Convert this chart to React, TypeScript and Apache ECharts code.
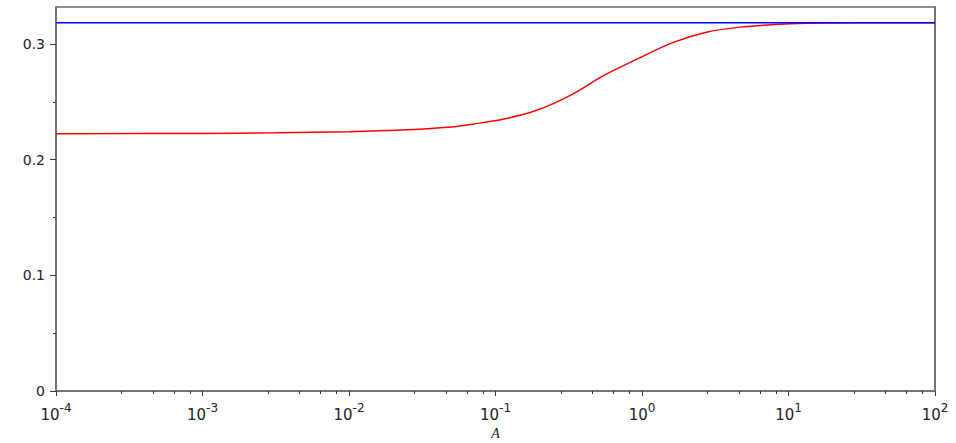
import React, { useEffect, useRef } from "react";
import * as echarts from "echarts";

// Red curve: A values and function values
const aValues = [1e-4, 1e-3, 0.00316, 0.01, 0.0224, 0.0501, 0.0676, 0.112, 0.191, 0.324, 0.55, 0.933, 1.62, 2.75, 4.68, 7.94, 13.2, 31.6, 100];
const redValues = [0.2225, 0.2227, 0.2232, 0.2242, 0.2256, 0.2283, 0.2305, 0.2349, 0.2427, 0.2556, 0.2729, 0.2872, 0.3012, 0.3102, 0.3146, 0.3168, 0.3179, 0.3183, 0.3183];
// Blue horizontal line (asymptote)
const blueA = [1e-4, 100];
const blueValues = [0.3183, 0.3183];

// Axis ticks
const xExponents = [-4, -3, -2, -1, 0, 1];
const minorFactors = [2.8, 4.6, 6.4, 8.2];
const yMajorTicks = [0, 0.1, 0.2, 0.3];
const yMinorTicks = [0.05, 0.15, 0.25];
const yMax = 0.332;

export default function App() {
  const ref = useRef<HTMLDivElement>(null);
  useEffect(() => {
    if (!ref.current) return;
    const chart = echarts.init(ref.current, undefined, { renderer: "svg" });
    const minorLog: number[] = [];
    xExponents.forEach((e) => minorFactors.forEach((f) => minorLog.push(Math.log10(f * Math.pow(10, e)))));
    const axisGrey = "#747474";
    const labelColor = "#222";
    chart.setOption({
      animation: false,
      grid: {
        left: 56, right: 21, top: 7, bottom: 52,
        show: true, borderColor: "#222", borderWidth: 1,
        outerBoundsMode: "none",
      },
      xAxis: [
        {
          type: "log", logBase: 10, min: 1e-4, max: 100,
          name: "A", nameLocation: "middle", nameGap: 33,
          nameTextStyle: { fontFamily: "Liberation Serif", fontStyle: "italic", fontSize: 14, color: labelColor },
          axisLine: { show: true, onZero: false, lineStyle: { color: axisGrey, width: 2 } },
          axisTick: { show: true, length: 5, lineStyle: { color: "#333", width: 1 } },
          splitLine: { show: false },
          minorTick: { show: false },
          axisLabel: {
            margin: 11,
            showMinLabel: true, showMaxLabel: true,
            formatter: (v: number) => `{b|10}{s|${Math.round(Math.log10(v))}}`,
            rich: {
              b: { fontFamily: "DejaVu Sans", fontSize: 15, color: labelColor, lineHeight: 20, verticalAlign: "bottom" },
              s: { fontFamily: "DejaVu Sans", fontSize: 12, color: labelColor, lineHeight: 12, verticalAlign: "top" },
            },
          },
        },
        {
          type: "value", min: -4, max: 2, position: "bottom",
          axisLine: { show: false, onZero: false },
          axisLabel: { show: false },
          splitLine: { show: false },
          axisTick: { show: true, length: 3, customValues: minorLog, lineStyle: { color: "#333", width: 1 } },
        },
      ],
      yAxis: [
        {
          type: "value", min: 0, max: yMax, position: "left",
          axisLine: { show: true, onZero: false, lineStyle: { color: axisGrey, width: 2 } },
          axisTick: { show: true, length: 6, customValues: yMajorTicks, lineStyle: { color: "#333", width: 1 } },
          splitLine: { show: false },
          axisLabel: {
            customValues: yMajorTicks, margin: 11,
            fontFamily: "DejaVu Sans", fontSize: 14, color: labelColor,
            formatter: (v: number) => String(v),
          },
        },
        {
          type: "value", min: 0, max: yMax, position: "left",
          axisLine: { show: false, onZero: false },
          axisLabel: { show: false },
          splitLine: { show: false },
          axisTick: { show: true, length: 3, customValues: yMinorTicks, lineStyle: { color: "#333", width: 1 } },
        },
        {
          type: "value", min: 0, max: yMax, position: "right",
          axisLine: { show: true, onZero: false, lineStyle: { color: axisGrey, width: 2 } },
          axisLabel: { show: false },
          axisTick: { show: false },
          splitLine: { show: false },
        },
      ],
      series: [
        {
          type: "line",
          xAxisIndex: 0, yAxisIndex: 0,
          data: aValues.map((a, i) => [a, redValues[i]]),
          smooth: 0.35,
          showSymbol: false,
          lineStyle: { color: "#ff0000", width: 1.5 },
          clip: true,
        },
        {
          type: "line",
          xAxisIndex: 0, yAxisIndex: 0,
          data: blueA.map((a, i) => [a, blueValues[i]]),
          showSymbol: false,
          lineStyle: { color: "#0000ff", width: 1.5 },
          clip: true,
        },
      ],
    });
    return () => chart.dispose();
  }, []);
  return <div ref={ref} style={{ position: "absolute", left: 0, top: 0, width: 956, height: 443 }} />;
}
